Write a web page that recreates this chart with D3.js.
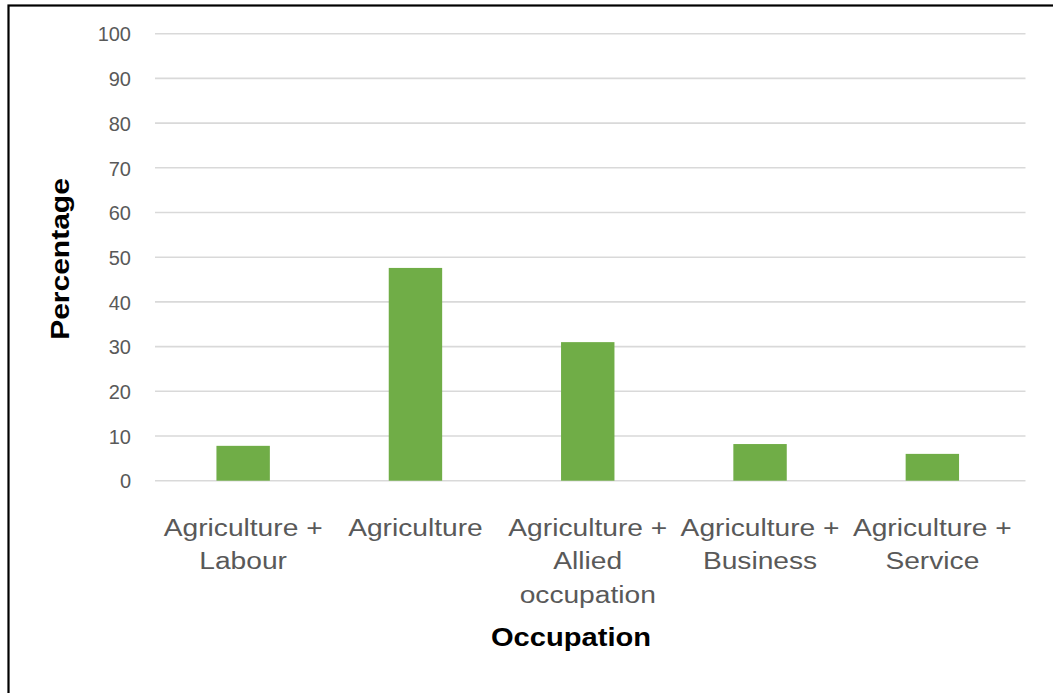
<!DOCTYPE html>
<html>
<head>
<meta charset="utf-8">
<script src="https://cdn.jsdelivr.net/npm/d3@7"></script>
<style>
  body { margin: 0; background: #fff; }
  svg { display: block; }
</style>
</head>
<body>
<div id="chart"></div>
<script>
// data
var categories = [
    ["Agriculture +", "Labour"],
    ["Agriculture"],
    ["Agriculture +", "Allied", "occupation"],
    ["Agriculture +", "Business"],
    ["Agriculture +", "Service"]
];
var percentages = [7.8, 47.6, 31.0, 8.2, 6.0];
var yTicks = [0, 10, 20, 30, 40, 50, 60, 70, 80, 90, 100];

var width = 1053;
var height = 693;

var svg = d3.select("#chart")
    .append("svg")
    .attr("width", width)
    .attr("height", height);

// outer frame (only left and top edges visible in the crop)
svg.append("rect")
    .attr("x", 8.5)
    .attr("y", 5.5)
    .attr("width", 1200)
    .attr("height", 900)
    .attr("fill", "none")
    .attr("stroke", "#000")
    .attr("stroke-width", 2.2);

var x = d3.scaleBand()
    .domain(d3.range(categories.length))
    .range([157, 1018.5])
    .padding(0);

var y = d3.scaleLinear()
    .domain([0, 100])
    .range([480.7, 33.7]);

var barWidth = x.bandwidth() * 0.31;

// gridlines
svg.append("g")
    .attr("class", "grid")
    .selectAll("line")
    .data(yTicks)
    .enter()
    .append("line")
    .attr("x1", 155)
    .attr("x2", 1025.5)
    .attr("y1", function(d){ return y(d); })
    .attr("y2", function(d){ return y(d); })
    .attr("stroke", "#d9d9d9")
    .attr("stroke-width", 1.6);

// y axis labels
var yAxis = d3.axisLeft(y)
    .tickValues(yTicks)
    .tickSize(0)
    .tickPadding(0);

var yg = svg.append("g")
    .attr("transform", "translate(131,0)")
    .call(yAxis);
yg.select(".domain").remove();
yg.selectAll("text")
    .attr("fill", "#595959")
    .style("font-family", "'Liberation Sans', Arial, sans-serif")
    .style("font-size", "20px")
    .attr("dy", "0.36em");

// bars
svg.append("g")
    .selectAll("rect")
    .data(percentages)
    .enter()
    .append("rect")
    .attr("x", function(d, i){ return x(i) + (x.bandwidth() - barWidth) / 2; })
    .attr("y", function(d){ return y(d); })
    .attr("width", barWidth)
    .attr("height", function(d){ return y(0) - y(d); })
    .attr("fill", "#70ad47");

// category labels
var labels = svg.append("g")
    .selectAll("g")
    .data(categories)
    .enter()
    .append("g")
    .attr("transform", function(d, i){
        return "translate(" + (x(i) + x.bandwidth() / 2) + ",536) scale(1.15,1)";
    });

labels.each(function(lines){
    var g = d3.select(this);
    lines.forEach(function(line, k){
        g.append("text")
            .attr("x", 0)
            .attr("y", k * 33.5)
            .attr("text-anchor", "middle")
            .attr("fill", "#595959")
            .style("font-family", "'Liberation Sans', Arial, sans-serif")
            .style("font-size", "24.5px")
            .text(line);
    });
});

// axis titles
svg.append("text")
    .attr("transform", "translate(571,646) scale(1.12,1)")
    .attr("text-anchor", "middle")
    .attr("fill", "#000")
    .style("font-family", "'Liberation Sans', Arial, sans-serif")
    .style("font-weight", "bold")
    .style("font-size", "26px")
    .text("Occupation");

svg.append("text")
    .attr("transform", "translate(69,259) rotate(-90) scale(1.2,1)")
    .attr("text-anchor", "middle")
    .attr("fill", "#000")
    .style("font-family", "'Liberation Sans', Arial, sans-serif")
    .style("font-weight", "bold")
    .style("font-size", "25px")
    .text("Percentage");
</script>
</body>
</html>
